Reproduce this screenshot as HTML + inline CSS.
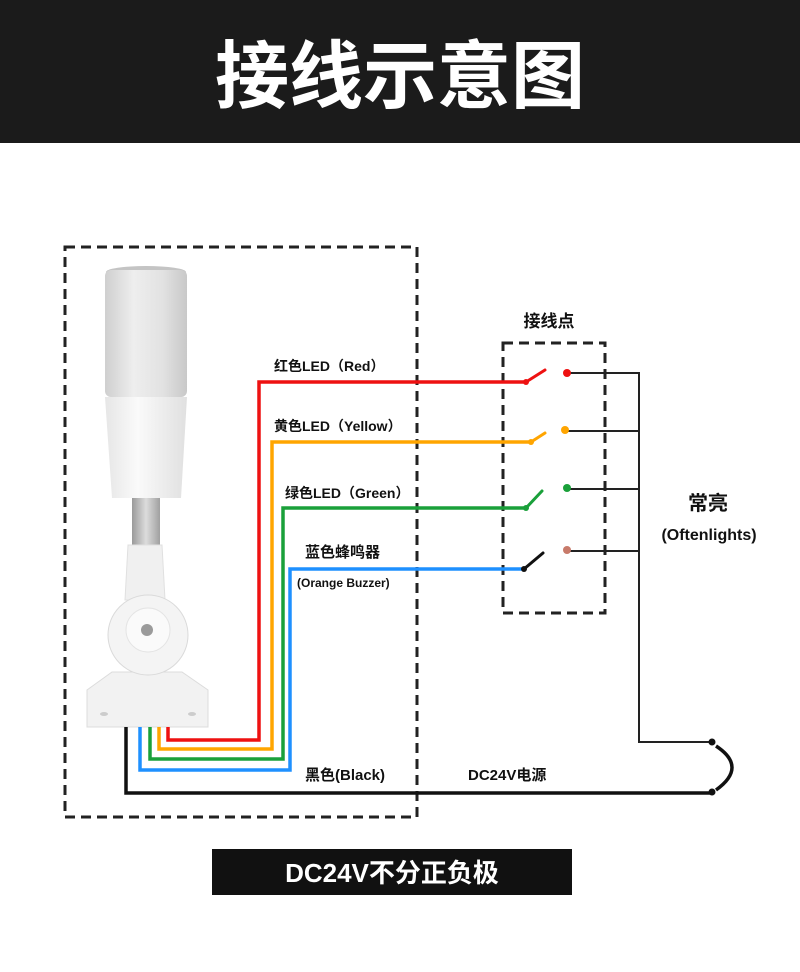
<!DOCTYPE html>
<html><head><meta charset="utf-8"><style>
html,body{margin:0;padding:0;background:#fff;}
svg{display:block;}
text{font-family:"Liberation Sans","Noto Sans CJK SC",sans-serif;font-weight:bold;}
</style></head><body>
<svg width="800" height="972" viewBox="0 0 800 972" xmlns="http://www.w3.org/2000/svg">
<defs>
<linearGradient id="lens" x1="0" x2="1" y1="0" y2="0">
<stop offset="0" stop-color="#cfcfcf"/><stop offset="0.35" stop-color="#eeeeee"/><stop offset="0.7" stop-color="#e2e2e2"/><stop offset="1" stop-color="#c8c8c8"/></linearGradient>
<linearGradient id="body" x1="0" x2="1" y1="0" y2="0">
<stop offset="0" stop-color="#e6e6e6"/><stop offset="0.4" stop-color="#fafafa"/><stop offset="1" stop-color="#e0e0e0"/></linearGradient>
<linearGradient id="stem" x1="0" x2="1" y1="0" y2="0">
<stop offset="0" stop-color="#9a9a9a"/><stop offset="0.5" stop-color="#dcdcdc"/><stop offset="1" stop-color="#a0a0a0"/></linearGradient>
</defs>
<rect x="0" y="0" width="800" height="143" fill="#1b1b1b"/>
<text x="400" y="102" text-anchor="middle" font-size="74" fill="#fff">接线示意图</text>

<rect x="65" y="247" width="352" height="570" fill="none" stroke="#222" stroke-width="3" stroke-dasharray="10,6"/>
<rect x="503" y="343" width="102" height="270" fill="none" stroke="#222" stroke-width="3" stroke-dasharray="10,6"/>
<text x="549" y="327" text-anchor="middle" font-size="17" fill="#111">接线点</text>

<ellipse cx="146" cy="272" rx="40" ry="6" fill="#c4c4c4"/>
<rect x="105" y="270" width="82" height="127" rx="6" fill="url(#lens)"/>
<path d="M105 397 L187 397 L181 498 L112 498 Z" fill="url(#body)"/>
<rect x="132" y="498" width="28" height="48" fill="url(#stem)"/>
<path d="M128 545 L162 545 L165 600 L125 600 Z" fill="#f0f0f0" stroke="#e0e0e0"/>
<path d="M112 672 L182 672 L208 690 L208 727 L87 727 L87 690 Z" fill="#f2f2f2" stroke="#dcdcdc"/>
<circle cx="148" cy="635" r="40" fill="#f4f4f4" stroke="#dadada"/>
<circle cx="148" cy="630" r="22" fill="#fafafa" stroke="#e4e4e4"/>
<circle cx="147" cy="630" r="6" fill="#9a9a9a"/>
<ellipse cx="104" cy="714" rx="4" ry="2" fill="#ccc"/>
<ellipse cx="192" cy="714" rx="4" ry="2" fill="#ccc"/>

<g fill="none" stroke-width="3.5" stroke-linejoin="miter">
<path d="M126 727 L126 793 L712 793" stroke="#111"/>
<path d="M140 727 L140 770 L290 770 L290 569 L524 569" stroke="#1e90ff"/>
<path d="M150 727 L150 759 L283 759 L283 508 L526 508" stroke="#1aa03a"/>
<path d="M159 727 L159 749 L272 749 L272 442 L531 442" stroke="#ffa500"/>
<path d="M168 727 L168 740 L259 740 L259 382 L526 382" stroke="#ee1111"/>
</g>
<g stroke-width="3" stroke-linecap="round">
<line x1="526" y1="382" x2="545" y2="370" stroke="#ee1111"/><circle cx="526" cy="382" r="3" fill="#ee1111"/>
<line x1="531" y1="442" x2="545" y2="433" stroke="#ffa500"/><circle cx="531" cy="442" r="3" fill="#ffa500"/>
<line x1="526" y1="508" x2="542" y2="491" stroke="#1aa03a"/><circle cx="526" cy="508" r="3" fill="#1aa03a"/>
<line x1="524" y1="569" x2="543" y2="553" stroke="#111"/><circle cx="524" cy="569" r="3" fill="#111"/>
</g>
<g fill="none" stroke="#222" stroke-width="2">
<path d="M567 373 L639 373 L639 742 L712 742"/>
<line x1="565" y1="431" x2="639" y2="431"/>
<line x1="567" y1="489" x2="639" y2="489"/>
<line x1="567" y1="551" x2="639" y2="551"/>
</g>
<circle cx="567" cy="373" r="4" fill="#ee1111"/>
<circle cx="565" cy="430" r="4" fill="#ffa500"/>
<circle cx="567" cy="488" r="4" fill="#1aa03a"/>
<circle cx="567" cy="550" r="4" fill="#c87a6a"/>
<circle cx="712" cy="742" r="3.5" fill="#111"/>
<circle cx="712" cy="792" r="3.5" fill="#111"/>
<path d="M716 746 Q748 767 716 790" fill="none" stroke="#111" stroke-width="3.5"/>

<text x="274" y="371" font-size="14" fill="#111">红色LED（Red）</text>
<text x="274" y="431" font-size="14" fill="#111">黄色LED（Yellow）</text>
<text x="285" y="498" font-size="14" fill="#111">绿色LED（Green）</text>
<text x="305" y="557" font-size="15" fill="#111">蓝色蜂鸣器</text>
<text x="297" y="587" font-size="12" fill="#111">(Orange Buzzer)</text>
<text x="305" y="780" font-size="15" fill="#111">黑色(Black)</text>
<text x="468" y="780" font-size="15" fill="#111">DC24V电源</text>
<text x="708" y="510" text-anchor="middle" font-size="20" fill="#111">常亮</text>
<text x="709" y="540" text-anchor="middle" font-size="16" fill="#111">(Oftenlights)</text>

<rect x="212" y="849" width="360" height="46" fill="#111"/>
<text x="392" y="882" text-anchor="middle" font-size="26" fill="#fff">DC24V不分正负极</text>
</svg>
</body></html>
